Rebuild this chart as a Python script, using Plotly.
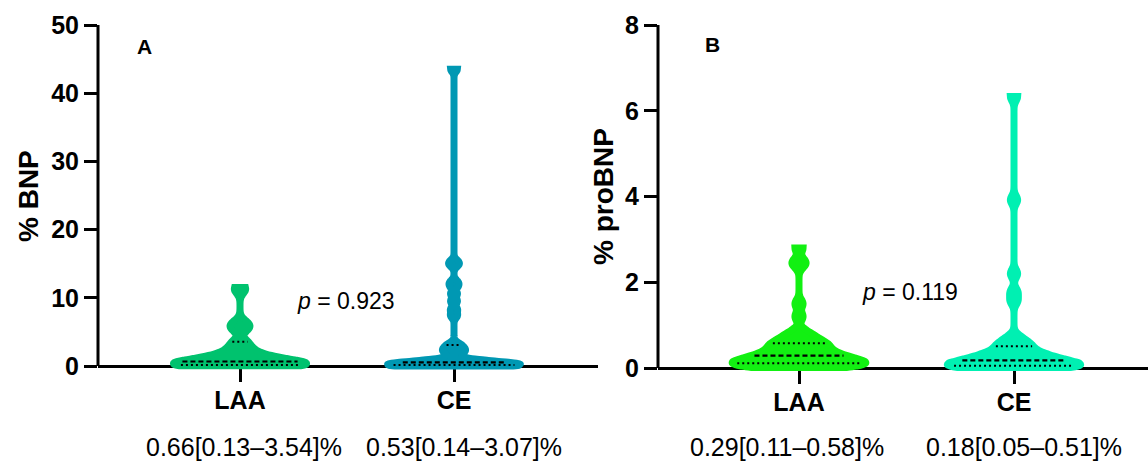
import numpy as np
import plotly.graph_objects as go

W, H = 1148, 468

categories = ["LAA", "CE"]

# ---- Panel A: % BNP (estimated individual values) ----
bnp_laa = [0.02, 0.03, 0.04, 0.05, 0.06, 0.07, 0.08, 0.09, 0.11, 0.12,
           0.14, 0.18, 0.23, 0.28, 0.33, 0.39, 0.45, 0.51, 0.57, 0.63,
           0.72, 0.85, 1.0, 1.1, 1.2, 1.4, 1.65, 1.8, 2.0, 2.4, 2.8, 3.3,
           3.6, 5.3, 5.7, 6.0, 6.4, 11.1, 11.5]
bnp_ce = [0.01, 0.02, 0.02, 0.03, 0.04, 0.05, 0.06, 0.08, 0.10, 0.12,
          0.15, 0.18, 0.22, 0.26, 0.30, 0.34, 0.38, 0.43, 0.48, 0.52,
          0.58, 0.66, 0.78, 0.95,
          1.7, 2.1, 2.3, 2.5, 2.9, 3.2,
          7.4, 8.3, 9.5, 10.6, 11.7, 12.3, 14.8, 15.3, 43.5]

# ---- Panel B: % proBNP (estimated individual values) ----
probnp_laa = [0.01, 0.02, 0.03, 0.04, 0.05, 0.06, 0.07, 0.08, 0.09, 0.10, 0.11, 0.12, 0.13, 0.14, 0.16, 0.18,
              0.20, 0.22, 0.24, 0.26, 0.28, 0.29, 0.31, 0.33,
              0.36, 0.40, 0.44, 0.48, 0.50,
              0.52, 0.55, 0.58, 0.62,
              0.67, 0.72, 0.77,
              0.86,
              1.2, 1.5, 2.4, 2.5, 2.8]
probnp_ce = [0.01, 0.01, 0.02, 0.02, 0.03, 0.03, 0.04, 0.04, 0.05, 0.05, 0.06, 0.07, 0.08, 0.09, 0.10,
             0.12, 0.14, 0.16, 0.18, 0.20, 0.22, 0.24,
             0.26, 0.28, 0.30, 0.32, 0.34,
             0.40, 0.45, 0.49,
             0.53, 0.58, 0.63,
             0.72,
             1.57, 1.77, 2.2, 3.92, 6.33]

# stated median [IQR]
bnp_median = [0.66, 0.53]
bnp_q1 = [0.13, 0.14]
bnp_q3 = [3.54, 3.07]
probnp_median = [0.29, 0.18]
probnp_q1 = [0.11, 0.05]
probnp_q3 = [0.58, 0.51]

p_values = ["0.923", "0.119"]
y_titles = ["% BNP", "% proBNP"]
panel_letters = ["A", "B"]
ticks_A = [0, 10, 20, 30, 40, 50]
ticks_B = [0, 2, 4, 6, 8]

colors_A = ["#00C26E", "#0098B3"]
colors_B = ["#12F012", "#00F0B2"]
bw_A = [0.65, 0.4]
bw_B = [0.1, 0.1]

FONT = "Liberation Sans, Arial, sans-serif"
VW = 0.62  # violin full width in category units


def px_x(p):
    return p / W


def px_y(p):
    return 1 - p / H


def kde(vals, bw, y):
    v = np.asarray(vals, dtype=float)[:, None]
    y = np.atleast_1d(np.asarray(y, dtype=float))
    return np.exp(-0.5 * ((y[None, :] - v) / bw) ** 2).sum(axis=0)


def half_width(vals, bw, q):
    grid = np.linspace(min(vals), max(vals), 3000)
    fmax = kde(vals, bw, grid).max()
    return VW / 2 * kde(vals, bw, q)[0] / fmax


fig = go.Figure()

panels = [
    dict(data=[bnp_laa, bnp_ce], med=bnp_median, q1=bnp_q1, q3=bnp_q3,
         colors=colors_A, bws=bw_A, xa="x", ya="y"),
    dict(data=[probnp_laa, probnp_ce], med=probnp_median, q1=probnp_q1, q3=probnp_q3,
         colors=colors_B, bws=bw_B, xa="x2", ya="y2"),
]

for pn in panels:
    for i, vals in enumerate(pn["data"]):
        c = pn["colors"][i]
        fig.add_trace(go.Violin(
            y=vals, x0=i, name=categories[i], width=VW, bandwidth=pn["bws"][i],
            spanmode="hard", scalemode="width", fillcolor=c, opacity=1,
            line=dict(color=c, width=7), points=False, box_visible=False,
            meanline_visible=False, showlegend=False, hoverinfo="skip",
            xaxis=pn["xa"], yaxis=pn["ya"]))
    for i, vals in enumerate(pn["data"]):
        for q, dash, lw in [(pn["q1"][i], "2px,3px", 2), (pn["med"][i], "5px,3px", 2.2),
                            (pn["q3"][i], "2px,3px", 2)]:
            hw = 0.93 * half_width(vals, pn["bws"][i], q)
            fig.add_trace(go.Scatter(
                x=[i - hw, i + hw], y=[q, q], mode="lines",
                line=dict(color="black", width=lw, dash=dash),
                showlegend=False, hoverinfo="skip",
                xaxis=pn["xa"], yaxis=pn["ya"]))

tickfont = dict(family=FONT, size=25, color="black", weight="bold")

# Panel A geometry (pixels): y-axis at x=98, LAA at 240, CE at 454, axis end 598; 0 at 366, 50 at 25
ax_common = dict(showgrid=False, zeroline=False, tickfont=tickfont, ticks="outside",
                 tickcolor="black", tickwidth=3, automargin=False)
fig.update_layout(
    xaxis=dict(domain=[px_x(98), px_x(598)], range=[-142 / 214, 1 + 144 / 214],
               anchor="free", position=px_y(366), showline=True, linecolor="black",
               linewidth=3, layer="below traces", tickvals=[0, 1], ticktext=categories,
               ticklen=14, ticklabelstandoff=-3, **ax_common),
    yaxis=dict(domain=[px_y(374), px_y(25)], range=[-8 / (341 / 50), 50], anchor="x",
               showline=False, tickvals=ticks_A, ticklen=13, **ax_common),
    xaxis2=dict(domain=[px_x(658), 1.0], range=[-141 / 215, 1 + 134 / 215],
                anchor="free", position=px_y(368), showline=True, linecolor="black",
                linewidth=3, layer="below traces", tickvals=[0, 1], ticktext=categories,
                ticklen=14, ticklabelstandoff=-3, **ax_common),
    yaxis2=dict(domain=[px_y(376), px_y(25)], range=[-8 / (343 / 8), 8], anchor="x2",
                showline=False, tickvals=ticks_B, ticklen=13, **ax_common),
    violinmode="overlay",
    width=W, height=H, autosize=False,
    margin=dict(l=0, r=0, t=0, b=0, pad=0, autoexpand=False),
    paper_bgcolor="white", plot_bgcolor="white",
)

# y-axis lines (stop at 0 like the original)
fig.add_shape(type="line", xref="x domain", yref="y", x0=0, x1=0, y0=0, y1=ticks_A[-1],
              line=dict(color="black", width=3), layer="below")
fig.add_shape(type="line", xref="x2 domain", yref="y2", x0=0, x1=0, y0=0, y1=ticks_B[-1],
              line=dict(color="black", width=3), layer="below")

ann = []
# axis titles
ann.append(dict(x=px_x(28), y=px_y(196), text=y_titles[0], textangle=-90,
                font=dict(family=FONT, size=28, color="black", weight="bold")))
ann.append(dict(x=px_x(603), y=px_y(197), text=y_titles[1], textangle=-90,
                font=dict(family=FONT, size=28, color="black", weight="bold")))
# panel letters
ann.append(dict(x=px_x(144), y=px_y(47), text=panel_letters[0],
                font=dict(family=FONT, size=21, color="black", weight="bold")))
ann.append(dict(x=px_x(712), y=px_y(44), text=panel_letters[1],
                font=dict(family=FONT, size=21, color="black", weight="bold")))
# p values
ann.append(dict(x=px_x(295), y=px_y(301), text="<i>p</i> = " + p_values[0], xanchor="left",
                font=dict(family=FONT, size=23, color="black")))
ann.append(dict(x=px_x(860), y=px_y(292), text="<i>p</i> = " + p_values[1], xanchor="left",
                font=dict(family=FONT, size=23, color="black")))
# summary text
stat_x = [244, 464, 787, 1024]
stats = []
for med, a, b in [(bnp_median, bnp_q1, bnp_q3), (probnp_median, probnp_q1, probnp_q3)]:
    for i in range(2):
        stats.append(f"{med[i]:.2f}[{a[i]:.2f}\u2013{b[i]:.2f}]%")
for sx, s in zip(stat_x, stats):
    ann.append(dict(x=px_x(sx), y=px_y(447), text=s,
                    font=dict(family=FONT, size=25, color="black")))

for a in ann:
    a.setdefault("xanchor", "center")
    a.update(xref="paper", yref="paper", showarrow=False, yanchor="middle")
    fig.add_annotation(**a)

fig.write_html("out.html", config={"displayModeBar": False},
               post_script="document.body.style.margin='0px';")
